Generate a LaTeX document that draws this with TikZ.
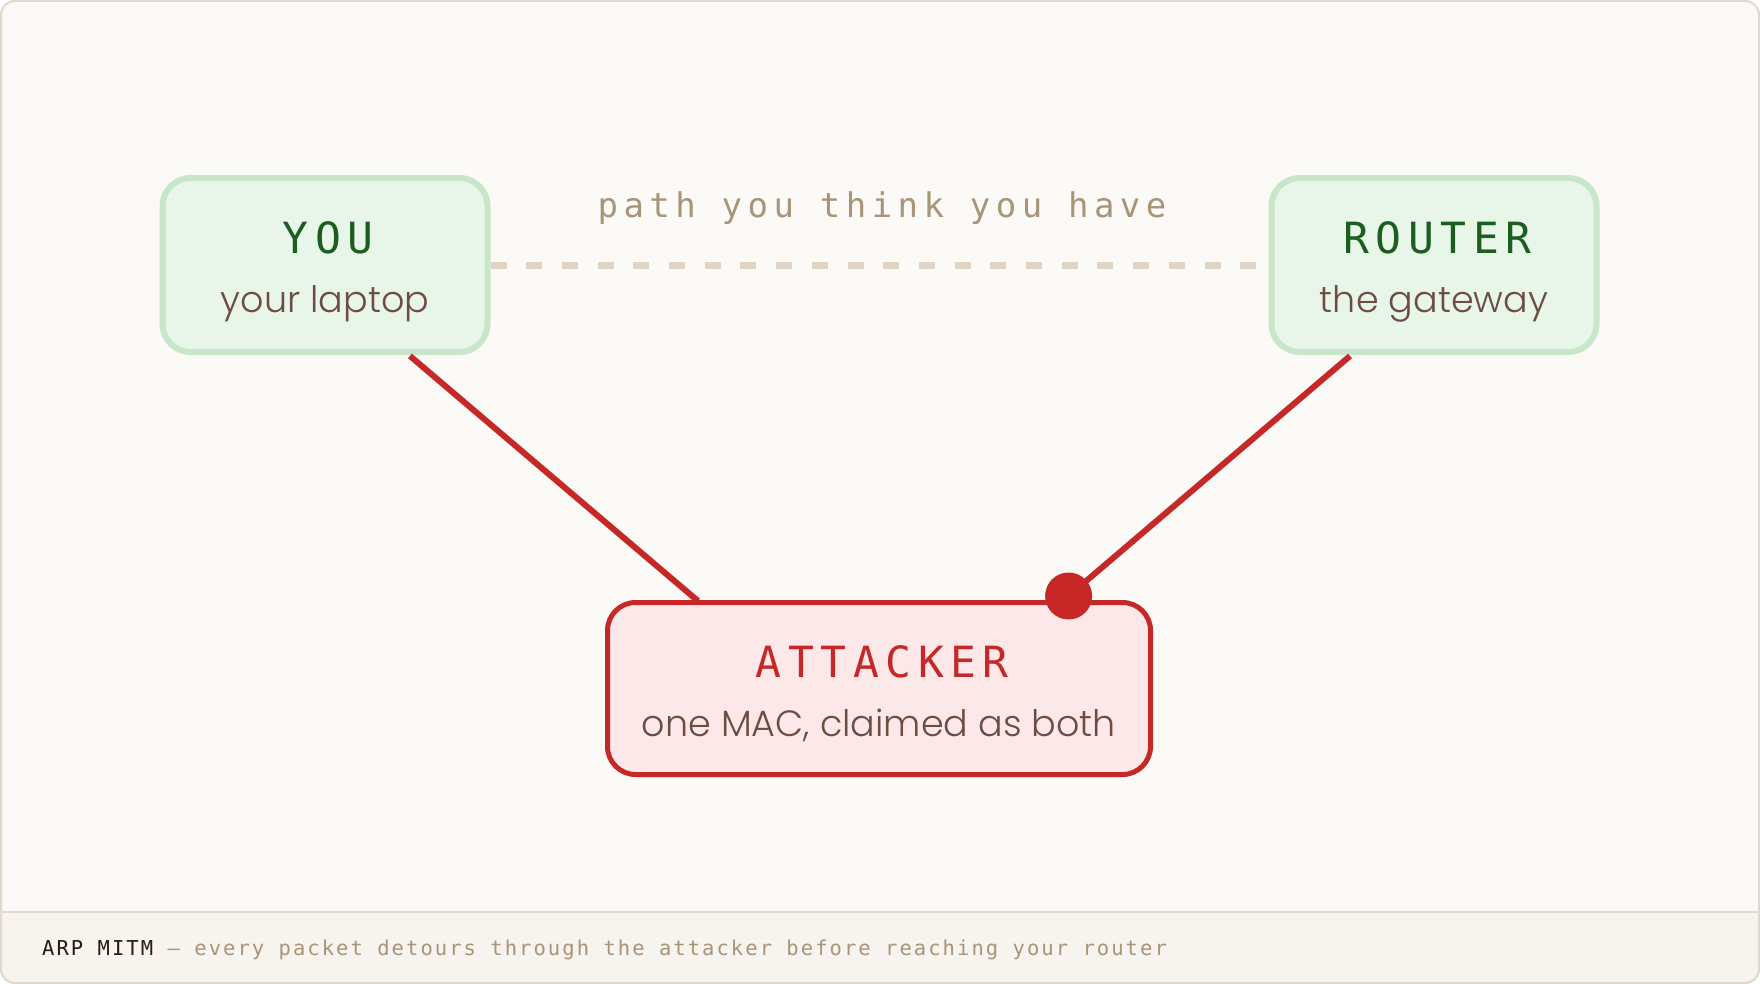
\documentclass[tikz,border=0pt]{standalone}
\usepackage{fontspec}
\setmainfont{Poppins Light}
\newfontfamily\titlefont[LetterSpace=15.3]{DejaVu Sans Mono}
\newfontfamily\pathfont[LetterSpace=16]{DejaVu Sans Mono}
\newfontfamily\footfont[LetterSpace=10]{DejaVu Sans Mono}
\definecolor{bg}{HTML}{FCFAF6}
\definecolor{frame}{HTML}{E2D9CC}
\definecolor{footbg}{HTML}{F7F3EE}
\definecolor{gfill}{HTML}{E8F5E9}
\definecolor{gline}{HTML}{C8E6C9}
\definecolor{gtext}{HTML}{1B5E20}
\definecolor{rred}{HTML}{C62828}
\definecolor{rfill}{HTML}{FDE8E9}
\definecolor{subtxt}{HTML}{6D4C41}
\definecolor{tan}{HTML}{A89478}
\definecolor{dashc}{HTML}{E0D5C5}
\definecolor{darkt}{HTML}{2A1A10}
\tikzset{
  greenbox/.style={draw=gline, fill=gfill, line width=6pt, rounded corners=28pt, minimum width=325pt, minimum height=174pt, inner sep=0pt},
  redbox/.style={draw=rred, fill=rfill, line width=5pt, rounded corners=28pt, minimum width=543pt, minimum height=172pt, inner sep=0pt},
  ttl/.style={anchor=base, inner sep=0pt, font=\titlefont\fontsize{43}{50}\selectfont},
  sub/.style={anchor=base, inner sep=0pt, text=subtxt, font=\fontsize{36.5}{44}\selectfont},
  wire/.style={draw=rred, line width=6pt},
}
\begin{document}
\begin{tikzpicture}[x=1pt,y=-1pt]
\useasboundingbox (0,0) rectangle (1760,984);
% background and frame
\path[fill=bg, draw=frame, line width=2pt, rounded corners=14pt] (1,1) rectangle (1759,983);
\path[fill=footbg, rounded corners=14pt] (2,912) -- (2,982) -- (1758,982) -- (1758,912) -- cycle;
\path[fill=footbg] (2,912) rectangle (1758,940);
\draw[frame, line width=2pt] (1,912) -- (1759,912);
\draw[frame, line width=2pt, rounded corners=14pt] (1,912) -- (1,983) -- (1759,983) -- (1759,912);

% boxes
\node[greenbox] (you) at (325,265) {};
\node[greenbox] (router) at (1434,265) {};
\node[redbox] (att) at (879,688.5) {};

% dashed path
\draw[dashc, line width=7pt, dash pattern=on 16pt off 19.7pt] (you.east) -- (router.west);
\node[anchor=base, inner sep=0pt, text=tan, font=\pathfont\fontsize{34}{40}\selectfont] (pathlbl) at (882,218) {path you think you have};

% red wires
\coordinate (youfoot) at (410,356);
\coordinate (attl) at (698,601);
\coordinate (routerfoot) at (1350,356);
\node[circle, fill=rred, minimum size=47pt, inner sep=0pt] (dot) at (1068.6,596) {};
\draw[wire] (youfoot) -- (attl);
\draw[wire] (routerfoot) -- (dot.center);

% texts
\node[ttl, text=gtext] (youT) at (328.3,254) {YOU};
\node[sub] (youS) at (325,312) {your laptop};
\node[ttl, text=gtext] (routerT) at (1437.3,254) {ROUTER};
\node[sub] (routerS) at (1434,312) {the gateway};
\node[ttl, text=rred] (attT) at (882.3,677) {ATTACKER};
\node[sub] (attS) at (879,736) {one MAC, claimed as both};

% footer
\node[anchor=base west, inner sep=0pt, font=\footfont\fontsize{20.5}{24}\selectfont] (foot) at (42,955) {\textcolor{darkt}{ARP MITM} \textcolor{tan}{— every packet detours through the attacker before reaching your router}};
\end{tikzpicture}
\end{document}
